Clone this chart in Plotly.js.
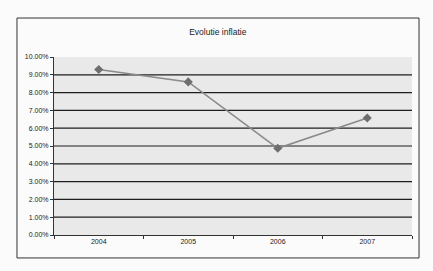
<!DOCTYPE html>
<html>
<head>
<meta charset="utf-8">
<script src="https://cdn.plot.ly/plotly-3.0.1.min.js"></script>
<style>html,body{margin:0;padding:0;background:#fbfbfb;}#chart{width:433px;height:271px;}</style>
</head>
<body>
<div id="chart"></div>
<script>
var years = ['2004', '2005', '2006', '2007'];
var inflation = [0.093, 0.086, 0.0487, 0.0657];
var gridValues = [0.01, 0.02, 0.03, 0.04, 0.05, 0.06, 0.07, 0.08, 0.09];
var yTicks = [0, 0.01, 0.02, 0.03, 0.04, 0.05, 0.06, 0.07, 0.08, 0.09, 0.10];
var titleText = 'Evolutie inflatie';

var shapes = gridValues.map(function (v) {
  return {type: 'line', xref: 'paper', x0: 0, x1: 1, yref: 'y', y0: v, y1: v,
          line: {color: '#1e1e1e', width: 1.2}, layer: 'below'};
});
shapes.push({type: 'rect', xref: 'paper', yref: 'paper', x0: -0.1034, x1: 1.0196, y0: -0.129, y1: 1.219,
             line: {color: '#333333', width: 1}, fillcolor: 'rgba(0,0,0,0)', layer: 'below'});

var trace = {
  x: years, y: inflation, type: 'scatter', mode: 'lines+markers',
  line: {color: '#8a8a8a', width: 1.6},
  marker: {symbol: 'diamond', size: 7, color: '#6e6e6e'},
  hoverinfo: 'skip'
};

var layout = {
  width: 433, height: 271,
  margin: {l: 54, r: 21, t: 57, b: 36, pad: 0},
  paper_bgcolor: '#fbfbfb',
  plot_bgcolor: '#e9e9e9',
  showlegend: false,
  font: {family: 'Liberation Sans, Arial, sans-serif', color: '#222222', size: 7},
  title: {text: titleText, font: {size: 8.5, color: '#222222', family: 'Liberation Sans, Arial, sans-serif'},
          x: 0.503, xanchor: 'center', y: 1 - 32 / 271, yanchor: 'middle', yref: 'container'},
  xaxis: {type: 'category', range: [-0.5, 3.5], tickson: 'boundaries', ticks: 'outside', ticklen: 3, tickcolor: '#333',
          showline: true, linecolor: '#333', linewidth: 1, showgrid: false, zeroline: false,
          tickfont: {size: 7, color: '#222'}, fixedrange: true},
  yaxis: {range: [0, 0.10], tickvals: yTicks, tickformat: '.2%', ticks: 'outside', ticklen: 3,
          tickcolor: '#333', showline: true, linecolor: '#333', linewidth: 1, showgrid: false,
          zeroline: false, tickfont: {size: 7, color: '#222'}, fixedrange: true},
  shapes: shapes
};

Plotly.newPlot('chart', [trace], layout, {displayModeBar: false, staticPlot: true});
</script>
</body>
</html>
